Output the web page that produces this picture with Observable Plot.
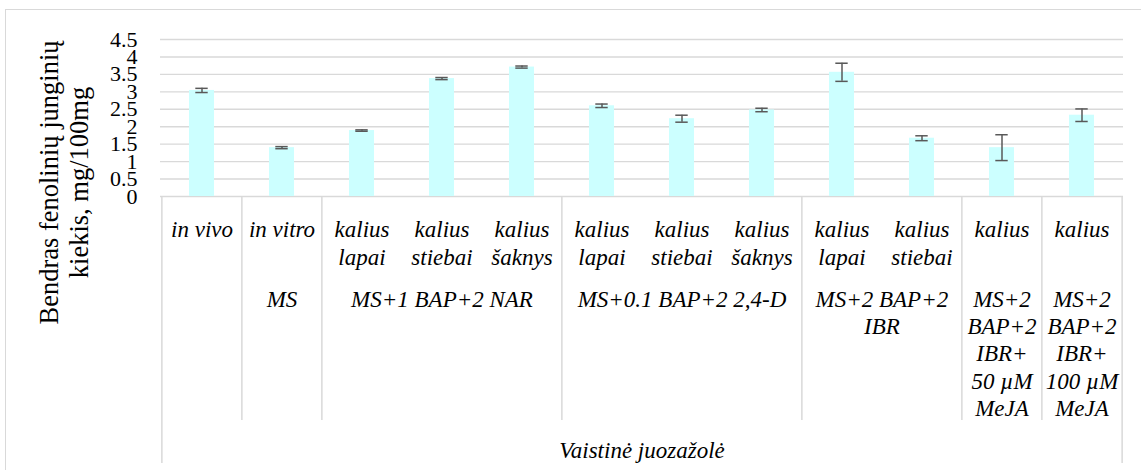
<!DOCTYPE html>
<html>
<head>
<meta charset="utf-8">
<script src="https://cdn.jsdelivr.net/npm/d3@7"></script>
<script src="https://cdn.jsdelivr.net/npm/@observablehq/plot@0.6"></script>
<style>
  html, body { margin: 0; padding: 0; background: #fff; }
  #wrap { position: relative; width: 1141px; height: 470px; overflow: hidden; }
  #border { position: absolute; left: 5px; top: 9px; width: 1150px; height: 480px;
            border: 1.5px solid #d9d9d9; pointer-events: none; box-sizing: border-box; }
</style>
</head>
<body>
<div id="wrap"><div id="border"></div></div>
<script>
// ---- data ----
const level1 = ["in vivo", "in vitro",
  "kalius\nlapai", "kalius\nstiebai", "kalius\nšaknys",
  "kalius\nlapai", "kalius\nstiebai", "kalius\nšaknys",
  "kalius\nlapai", "kalius\nstiebai",
  "kalius", "kalius"];
const groupLabels = ["", "MS", "MS+1 BAP+2 NAR", "MS+0.1 BAP+2 2,4-D", "MS+2 BAP+2\nIBR",
  "MS+2\nBAP+2\nIBR+\n50 µM\nMeJA", "MS+2\nBAP+2\nIBR+\n100 µM\nMeJA"];
const groupSizes = [1, 1, 3, 3, 2, 1, 1];
const level3 = "Vaistinė juozažolė";
const values = [3.04, 1.40, 1.89, 3.38, 3.71, 2.60, 2.23, 2.48, 3.56, 1.67, 1.40, 2.33];
const errors = [0.06, 0.03, 0.02, 0.03, 0.03, 0.05, 0.10, 0.05, 0.26, 0.07, 0.37, 0.18];
const yTicks = [0, 0.5, 1, 1.5, 2, 2.5, 3, 3.5, 4, 4.5];
const yTitle = "Bendras fenolinių junginių\nkiekis, mg/100mg";

// ---- build table ----
const ids = level1.map((_, i) => "c" + i);
const data = ids.map((id, i) => ({id, l1: level1[i], value: values[i], err: errors[i]}));

const groups = [];
let start = 0;
groupSizes.forEach((n, g) => {
  groups.push({label: groupLabels[g], first: ids[start], last: ids[start + n - 1],
    mid: ids[start + Math.floor(n / 2)], even: n % 2 === 0});
  start += n;
});

// ---- layout ----
const W = 1141, H = 470;
const mL = 160, mR = 18, mT = 39, mB = 274;
const step = (W - mL - mR) / ids.length;
const half = step / 2;
const axisY0 = H - mB;
const serif = "Liberation Serif";
const grid = "#d9d9d9";
const errC = "#595959";
const catFont = 23;
const topAnchor = 0.71 * catFont;

const chart = Plot.plot({
  width: W, height: H,
  marginLeft: mL, marginRight: mR, marginTop: mT, marginBottom: mB,
  style: {fontFamily: serif, fontSize: "22px"},
  x: {type: "band", domain: ids, paddingInner: 0.69, paddingOuter: 0.345, axis: null},
  y: {domain: [0, 4.5], ticks: yTicks, tickSize: 0, tickPadding: 23,
      tickFormat: d => String(d), label: null},
  marks: [
    Plot.ruleY(yTicks, {stroke: grid, strokeWidth: 1.4}),
    Plot.barY(data, {x: "id", y: "value", fill: "#CCFFFF"}),
    Plot.ruleX(data, {x: "id", y1: d => d.value - d.err, y2: d => d.value + d.err,
      stroke: errC, strokeWidth: 1.5}),
    Plot.tickY(data, {x: "id", y: d => d.value - d.err, stroke: errC, strokeWidth: 1.5,
      insetLeft: 6.3, insetRight: 6.3}),
    Plot.tickY(data, {x: "id", y: d => d.value + d.err, stroke: errC, strokeWidth: 1.5,
      insetLeft: 6.3, insetRight: 6.3}),
    Plot.ruleX([ids[0]], {x: d => d, dx: -half, insetTop: axisY0 - mT, insetBottom: -(463 - axisY0),
      stroke: grid, strokeWidth: 1.5}),
    Plot.ruleX([ids[ids.length - 1]], {x: d => d, dx: half, insetTop: axisY0 - mT, insetBottom: -(463 - axisY0),
      stroke: grid, strokeWidth: 1.5}),
    Plot.ruleX(groups.slice(1), {x: "first", dx: -half, insetTop: axisY0 - mT, insetBottom: -(420 - axisY0),
      stroke: grid, strokeWidth: 1.5}),
    Plot.text(data, {x: "id", text: "l1", frameAnchor: "bottom", lineAnchor: "top",
      dy: 233 - topAnchor - axisY0, fontSize: catFont, fontStyle: "italic", lineHeight: 1.22,
      fontFamily: serif}),
    Plot.text(groups.filter(g => !g.even), {x: "mid", text: "label", frameAnchor: "bottom", lineAnchor: "top",
      dy: 303 - topAnchor - axisY0, fontSize: catFont, fontStyle: "italic", lineHeight: 1.19,
      fontFamily: serif}),
    Plot.text(groups.filter(g => g.even), {x: "mid", dx: -half, text: "label", frameAnchor: "bottom", lineAnchor: "top",
      dy: 303 - topAnchor - axisY0, fontSize: catFont, fontStyle: "italic", lineHeight: 1.19,
      fontFamily: serif}),
    Plot.text([level3], {text: d => d, frameAnchor: "bottom", lineAnchor: "top",
      dy: 457 - topAnchor - axisY0, fontSize: catFont, fontStyle: "italic", fontFamily: serif}),
    Plot.text([yTitle], {text: d => d, frameAnchor: "left", rotate: -90, textAnchor: "middle",
      lineAnchor: "middle", lineHeight: 1.13, fontSize: 26.5, fontFamily: serif,
      dx: 63 - mL, dy: 182 - (mT + axisY0) / 2})
  ]
});
chart.style.position = "absolute";
chart.style.left = "0px";
chart.style.top = "0px";
chart.style.background = "transparent";
chart.querySelectorAll("text, tspan").forEach(t => { t.style.fontFamily = "'Liberation Serif'"; });
document.getElementById("wrap").appendChild(chart);
</script>
</body>
</html>
